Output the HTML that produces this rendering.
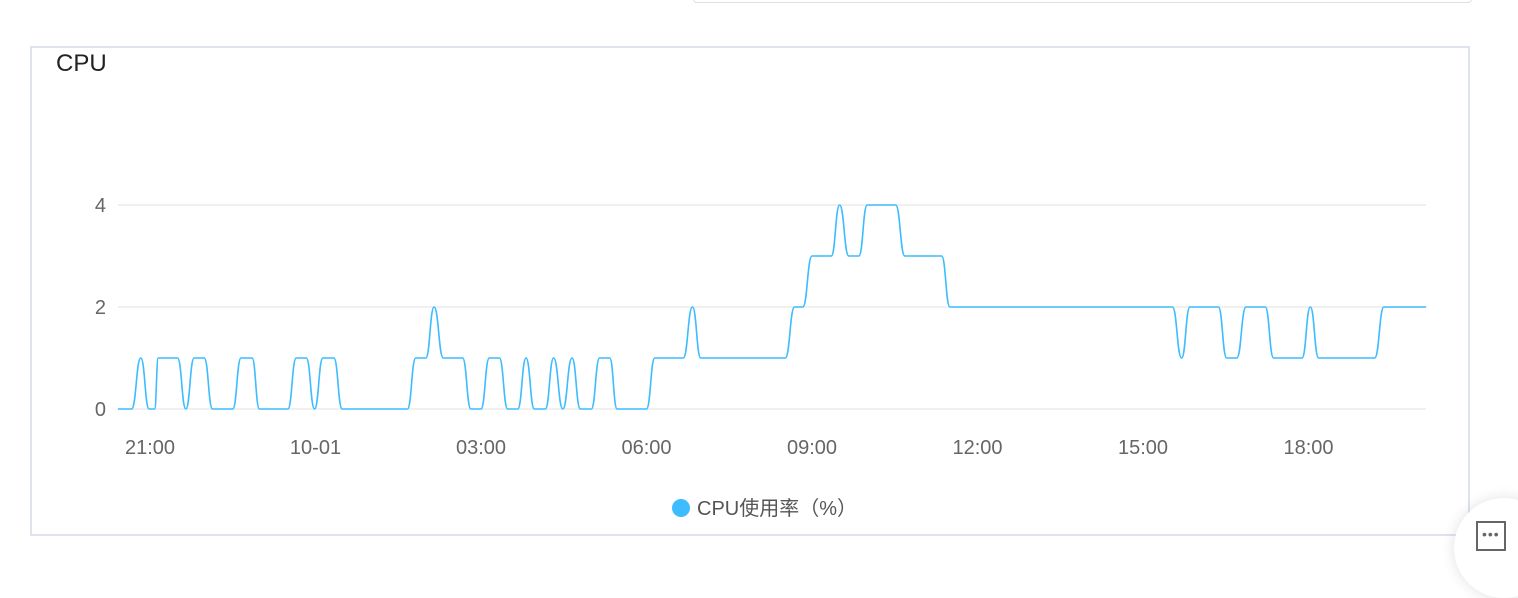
<!DOCTYPE html>
<html><head><meta charset="utf-8">
<style>
html,body{margin:0;padding:0;width:1518px;height:546px;overflow:hidden;background:#fff;font-family:"Liberation Sans","Noto Sans CJK SC",sans-serif;}
#topbox{position:absolute;left:693px;top:-10px;width:777px;height:11px;border:1px solid #dcdfe6;border-radius:4px;}
#card{position:absolute;left:30px;top:46px;width:1440px;height:490px;border:2px solid #dfe3ee;box-sizing:border-box;}
#title{position:absolute;left:56px;top:50px;font-size:24px;color:#222;}
#fab{position:absolute;left:1454px;top:498px;width:100px;height:100px;border-radius:50%;background:#fff;box-shadow:0 0 14px rgba(0,0,0,0.12);}
#fabicon{position:absolute;left:1476px;top:521px;width:30px;height:30px;border:2px solid #666;box-sizing:border-box;}
svg{position:absolute;left:0;top:0;}
</style></head><body>
<div id="topbox"></div>
<div id="card"></div>
<div id="title">CPU</div>
<svg id="chart" width="1518" height="546"></svg>
<div id="fab"></div>
<div id="fabicon"><span style="position:absolute;left:4px;top:3px;font-size:14px;color:#666;letter-spacing:1px">•••</span></div>
<script>
// minutes since 09-30 20:00
const times=[25,40,50,59,65,69,90,99,108,119,128,150,159,171,179,210,219,230,239,248,260,269,340,349,360,369,379,400,409,420,429,440,449,460,469,478,490,499,509,519,528,540,549,560,568,600,609,640,650,659,751,761,770,780,801,810,820,831,840,871,881,921,930,1172,1182,1191,1222,1231,1242,1252,1273,1282,1313,1322,1331,1392,1402,1448];
const values=[0,0,1,0,0,1,1,0,1,1,0,0,1,1,0,0,1,1,0,1,1,0,0,1,1,2,1,1,0,0,1,1,0,0,1,0,0,1,0,1,0,0,1,1,0,0,1,1,2,1,1,2,2,3,3,4,3,3,4,4,3,3,2,2,1,2,2,1,1,2,2,1,1,2,1,1,2,2];
const yTicks=[0,2,4];
const xTickLabels=["21:00","10-01","03:00","06:00","09:00","12:00","15:00","18:00"];
const xTickTimes=[60,240,420,600,780,960,1140,1320];
const legendLabel="CPU使用率（%）";

const NS="http://www.w3.org/2000/svg";
const svg=document.getElementById('chart');
const X=t=>150+(t-60)*165.5/180;
const Y=v=>409-v*51;
function mk(tag,attrs){const e=document.createElementNS(NS,tag);for(const k in attrs)e.setAttribute(k,attrs[k]);svg.appendChild(e);return e;}
yTicks.forEach(v=>{
  const l=mk('line',{x1:118,x2:1426,y1:Y(v),y2:Y(v),stroke:'#e0e0e0','stroke-width':1});
  
  
  const t=mk('text',{x:106,y:Y(v)+7,'text-anchor':'end','font-size':20,fill:'#666','font-family':'Liberation Sans, sans-serif'});
  t.textContent=v;
  
  
});
xTickTimes.forEach((tm,i)=>{
  const t=mk('text',{x:X(tm),y:454,'text-anchor':'middle','font-size':20,fill:'#666','font-family':'Liberation Sans, sans-serif'});
  t.textContent=xTickLabels[i];
  
  
});
let d='M'+X(times[0])+','+Y(values[0]);
for(let i=1;i<times.length;i++){
  const x0=X(times[i-1]),y0=Y(values[i-1]),x1=X(times[i]),y1=Y(values[i]);
  const m=(x1-x0)/2;
  d+=` C${x0+m},${y0} ${x1-m},${y1} ${x1},${y1}`;
}
const p=mk('path',{d:d,fill:'none',stroke:'#3dbcff','stroke-width':1.6});


const c=mk('circle',{cx:681,cy:508,r:9,fill:'#3dbcff'});


const lt=mk('text',{x:697,y:515,'font-size':20,fill:'#555','font-family':'Liberation Sans, Noto Sans CJK SC, sans-serif'});
lt.textContent=legendLabel;


</script>
</body></html>
